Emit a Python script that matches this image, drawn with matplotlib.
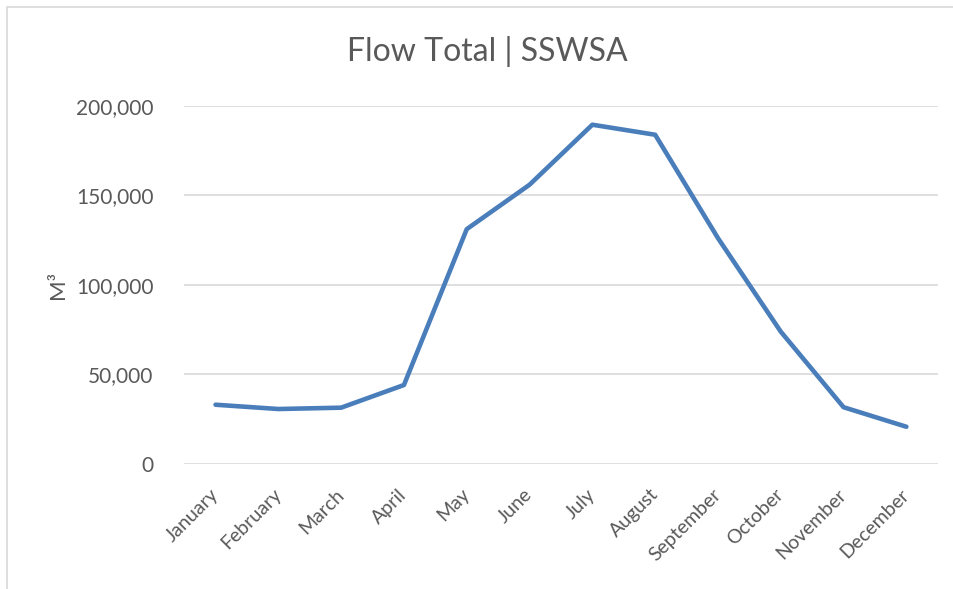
import matplotlib.pyplot as plt
from matplotlib.patches import Rectangle
from matplotlib.ticker import FuncFormatter

# Datos
months = ['January', 'February', 'March', 'April', 'May', 'June',
          'July', 'August', 'September', 'October', 'November', 'December']
flow = [33100, 30700, 31450, 44100, 131100, 155900,
        189400, 183800, 126100, 73900, 31700, 20800]
yticks = [0, 50000, 100000, 150000, 200000]

plt.rcParams['font.family'] = ['Lato', 'DejaVu Sans']
text_color = '#595959'

fig = plt.figure(figsize=(9.54, 5.89), dpi=100)
ax = fig.add_axes([0.193, 0.2122, 0.79, 0.6083])

# borde del grafico
fig.patches.append(Rectangle((7 / 954, -0.1), 1.2, 1 - 7 / 589 + 0.1,
                             transform=fig.transFigure, fill=False,
                             edgecolor='#d9d9d9', linewidth=1.2))

ax.plot(range(len(months)), flow, color='#4a7ebb', linewidth=3.3,
        solid_joinstyle='round', solid_capstyle='round', zorder=3)

ax.set_xlim(-0.5, len(months) - 0.5)
ax.set_ylim(0, 200000)
ax.set_yticks(yticks)
ax.yaxis.set_major_formatter(FuncFormatter(lambda v, p: f'{int(v):,}'))
ax.grid(axis='y', color='#d9d9d9', linewidth=1.2)
ax.set_axisbelow(True)

ax.set_xticks(range(len(months)))
ax.set_xticklabels(months, rotation=45, ha='right', va='center',
                   rotation_mode='anchor')
ax.tick_params(axis='x', length=0, pad=20, labelsize=14, colors=text_color)
ax.tick_params(axis='y', length=0, pad=22, labelsize=15, colors=text_color)

for s in ax.spines.values():
    s.set_visible(False)

ax.set_ylabel('M³', fontsize=16, color=text_color, labelpad=6)
fig.text(0.511, 0.912, 'Flow Total | SSWSA', ha='center', va='center',
         fontsize=23, color=text_color)

fig.savefig('out.png', dpi=100)
